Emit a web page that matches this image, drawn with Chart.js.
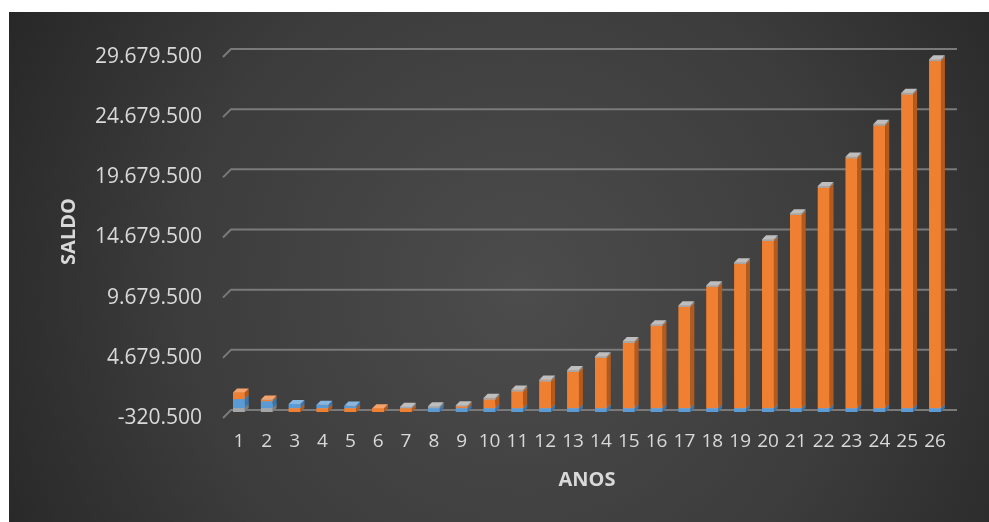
<!DOCTYPE html>
<html>
<head>
<meta charset="utf-8">
<script src="https://cdn.jsdelivr.net/npm/chart.js@4/dist/chart.umd.min.js"></script>
<style>
  html, body { margin: 0; padding: 0; background: #ffffff; }
  #wrap { width: 989px; height: 522px; position: relative; }
</style>
</head>
<body>
<div id="wrap"><canvas id="grafico" width="989" height="522"></canvas></div>
<script>
// Anos do período
const anos = ['1','2','3','4','5','6','7','8','9','10','11','12','13','14','15','16','17','18','19','20','21','22','23','24','25','26'];

// Componentes do saldo em cada ano
const serieAzul = [750000, 580000, 340000, 290000, 210000, 0, 40000, -320500, -320500, -320500,
  -320500, -320500, -320500, -320500, -320500, -320500, -320500, -320500, -320500, -320500,
  -320500, -320500, -320500, -320500, -320500, -320500];
const serieLaranja = [560000, 130000, -320500, -320500, -320500, -320500, -320500, 0, 150000, 720000,
  1390000, 2220000, 3010000, 4170000, 5420000, 6830000, 8410000, 10070000, 11980000, 13890000,
  16050000, 18320000, 20760000, 23480000, 26060000, 28840000];
const serieCinza = [-320500, -320500, 0, 0, 0, 0, 80000, 150000, 100000, 150000,
  150000, 150000, 150000, 150000, 150000, 150000, 150000, 150000, 150000, 150000,
  150000, 150000, 150000, 150000, 150000, 150000];

// Marcas do eixo de saldo
const ticksSaldo = [-320500, 4679500, 9679500, 14679500, 19679500, 24679500, 29679500];

// Cores: frente, lateral e topo de cada série
const cores = {
  azul:    { frente: '#5B9BD5', lado: '#3E74A6', topo: '#86B6E2' },
  laranja: { frente: '#EF7F31', lado: '#B35A1C', topo: '#F5A36C' },
  cinza:   { frente: '#A5A5A5', lado: '#7C7C7C', topo: '#BEBEBE' }
};

// Profundidade aparente das colunas e da parede de fundo
const PROF = { dx: 4, dy: 4 };
const PAREDE = { dx: 8, dy: 8, frente: 6 };

function formatarMilhar(v) {
  const neg = v < 0;
  const s = Math.abs(Math.round(v)).toString().replace(/\B(?=(\d{3})+(?!\d))/g, '.');
  return (neg ? '-' : '') + s;
}

const fundo = {
  id: 'fundo',
  beforeDraw(chart) {
    const ctx = chart.ctx;
    ctx.save();
    ctx.fillStyle = '#ffffff';
    ctx.fillRect(0, 0, chart.width, chart.height);
    const g = ctx.createRadialGradient(520, 290, 0, 520, 290, 620);
    g.addColorStop(0, '#4c4c4c');
    g.addColorStop(0.55, '#3c3c3c');
    g.addColorStop(1, '#242424');
    ctx.fillStyle = g;
    ctx.fillRect(9, 12, chart.width - 9, chart.height - 12);
    ctx.restore();
  }
};

const grade = {
  id: 'grade',
  beforeDatasetsDraw(chart) {
    const { ctx, chartArea, scales } = chart;
    const y = scales.y;
    ctx.save();
    ctx.strokeStyle = '#7a7a7a';
    ctx.lineWidth = 2;
    ctx.lineJoin = 'round';
    for (const v of ticksSaldo) {
      const py = y.getPixelForValue(v);
      const fy = py + PAREDE.frente;
      const by = fy - PAREDE.dy;
      ctx.beginPath();
      ctx.moveTo(chartArea.left - 2, fy);
      ctx.lineTo(chartArea.left - 2 + PAREDE.dx, by);
      ctx.lineTo(chartArea.right + PAREDE.dx, by);
      ctx.stroke();
    }
    ctx.restore();
  }
};

const colunas3d = {
  id: 'colunas3d',
  afterDatasetsDraw(chart) {
    const ctx = chart.ctx;
    const paletas = chart.data.datasets.map(d => d.paleta);
    const n = chart.data.labels.length;
    ctx.save();
    for (let i = 0; i < n; i++) {
      const partes = [];
      chart.data.datasets.forEach((ds, k) => {
        const el = chart.getDatasetMeta(k).data[i];
        if (!el) return;
        const p = el.getProps(['x', 'y', 'base', 'width'], true);
        const topo = Math.min(p.y, p.base);
        const baixo = Math.max(p.y, p.base);
        if (baixo - topo < 0.3) return;
        partes.push({ x: p.x, w: p.width, topo, baixo, cor: paletas[k] });
      });
      partes.sort((a, b) => b.baixo - a.baixo);
      for (const s of partes) {
        const xl = s.x - s.w / 2, xr = s.x + s.w / 2;
        ctx.fillStyle = s.cor.frente;
        ctx.fillRect(xl, s.topo, s.w, s.baixo - s.topo);
        ctx.fillStyle = s.cor.lado;
        ctx.beginPath();
        ctx.moveTo(xr, s.topo);
        ctx.lineTo(xr + PROF.dx, s.topo - PROF.dy);
        ctx.lineTo(xr + PROF.dx, s.baixo - PROF.dy);
        ctx.lineTo(xr, s.baixo);
        ctx.closePath();
        ctx.fill();
        ctx.fillStyle = s.cor.topo;
        ctx.beginPath();
        ctx.moveTo(xl, s.topo);
        ctx.lineTo(xl + PROF.dx, s.topo - PROF.dy);
        ctx.lineTo(xr + PROF.dx, s.topo - PROF.dy);
        ctx.lineTo(xr, s.topo);
        ctx.closePath();
        ctx.fill();
      }
    }
    ctx.restore();
  }
};

const corTexto = '#D9D9D9';

new Chart(document.getElementById('grafico'), {
  type: 'bar',
  data: {
    labels: anos,
    datasets: [
      { label: 'Série1', data: serieAzul, backgroundColor: cores.azul.frente, paleta: cores.azul },
      { label: 'Série2', data: serieLaranja, backgroundColor: cores.laranja.frente, paleta: cores.laranja },
      { label: 'Série3', data: serieCinza, backgroundColor: cores.cinza.frente, paleta: cores.cinza }
    ]
  },
  options: {
    responsive: false,
    animation: false,
    events: [],
    barPercentage: 0.42,
    categoryPercentage: 1,
    layout: { padding: { left: 9, top: 51, right: 40, bottom: 0 } },
    plugins: { legend: { display: false }, tooltip: { enabled: false } },
    scales: {
      x: {
        stacked: true,
        grid: { display: false, drawTicks: false },
        border: { display: false },
        ticks: {
          color: corTexto,
          padding: 18,
          maxRotation: 0,
          autoSkip: false,
          font: { family: 'Open Sans', size: 19 }
        },
        title: {
          display: true,
          text: 'ANOS',
          color: corTexto,
          font: { family: 'Open Sans', size: 20, weight: 'bold' },
          padding: { top: 0, bottom: 30 }
        },
        afterFit(scale) { scale.height = 110; }
      },
      y: {
        stacked: true,
        min: ticksSaldo[0],
        max: ticksSaldo[ticksSaldo.length - 1],
        grid: { display: false, drawTicks: false },
        border: { display: false },
        afterBuildTicks(scale) { scale.ticks = ticksSaldo.map(v => ({ value: v })); },
        ticks: {
          color: corTexto,
          padding: 23,
          labelOffset: 6,
          font: { family: 'Open Sans', size: 21 },
          callback: v => formatarMilhar(v)
        },
        title: {
          display: true,
          text: 'SALDO',
          color: corTexto,
          font: { family: 'Open Sans', size: 20, weight: 'bold' },
          padding: { top: 48, bottom: 0 }
        },
        afterFit(scale) { scale.width = 216; }
      }
    }
  },
  plugins: [fundo, grade, colunas3d]
});
</script>
</body>
</html>
